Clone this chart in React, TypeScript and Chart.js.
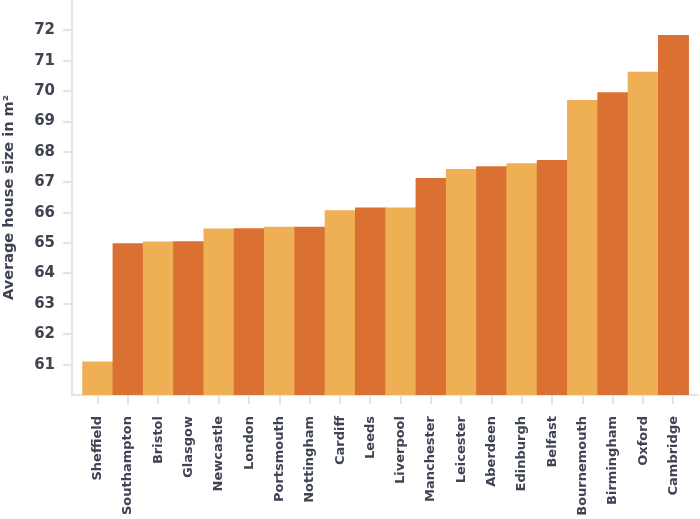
import { useEffect, useRef } from 'react';
import { Chart, registerables } from 'chart.js';

Chart.register(...registerables);

const categories = [
  'Sheffield', 'Southampton', 'Bristol', 'Glasgow', 'Newcastle', 'London',
  'Portsmouth', 'Nottingham', 'Cardiff', 'Leeds', 'Liverpool', 'Manchester',
  'Leicester', 'Aberdeen', 'Edinburgh', 'Belfast', 'Bournemouth', 'Birmingham',
  'Oxford', 'Cambridge',
];
const values = [
  61.09, 64.98, 65.04, 65.05, 65.47, 65.48,
  65.53, 65.53, 66.07, 66.16, 66.16, 67.13,
  67.43, 67.52, 67.62, 67.72, 69.7, 69.95,
  70.63, 71.84,
];
const yTickValues = [61, 62, 63, 64, 65, 66, 67, 68, 69, 70, 71, 72];
const yTitle = 'Average house size in m²';

const LIGHT = '#EFB055';
const DARK = '#DB7033';
const GRAY = '#E4E4E4';
const TEXT = '#3E4452';
const FAMILY = '"DejaVu Sans", sans-serif';

export default function App() {
  const ref = useRef<HTMLCanvasElement>(null);

  useEffect(() => {
    document.body.style.margin = '0';
    const chart = new Chart(ref.current!, {
      type: 'bar',
      data: {
        datasets: [
          {
            data: values.map((v, i) => ({ x: i, y: v })),
            backgroundColor: values.map((_, i) => (i % 2 === 0 ? LIGHT : DARK)),
            borderWidth: 0,
            barPercentage: 1,
            categoryPercentage: 1,
          },
        ],
      },
      options: {
        animation: false,
        responsive: false,
        maintainAspectRatio: false,
        layout: { padding: { top: 0, right: 2, bottom: 0, left: 0 } },
        plugins: { legend: { display: false }, tooltip: { enabled: false } },
        scales: {
          x: {
            type: 'linear',
            offset: false,
            min: -0.85,
            max: 19.81,
            afterBuildTicks: (s: any) => {
              s.ticks = categories.map((_, i) => ({ value: i }));
            },
            afterFit: (s: any) => {
              s.height = 124;
              s.paddingLeft = 0;
              s.paddingRight = 0;
            },
            ticks: {
              autoSkip: false,
              maxRotation: 90,
              minRotation: 90,
              padding: 12,
              color: TEXT,
              font: { family: FAMILY, size: 13, weight: 'bold' },
              callback: (v: any) => categories[v as number] ?? '',
            },
            grid: { offset: false, drawOnChartArea: false, tickLength: 9, color: GRAY, lineWidth: 2 },
            border: { color: GRAY, width: 2 },
          },
          y: {
            min: 60,
            max: 73,
            afterBuildTicks: (s: any) => {
              s.ticks = yTickValues.map((v) => ({ value: v }));
            },
            afterFit: (s: any) => {
              s.width = 72;
              s.paddingTop = 0;
              s.paddingBottom = 0;
            },
            ticks: {
              padding: 8,
              color: TEXT,
              font: { family: FAMILY, size: 15, weight: 'bold' },
            },
            grid: { drawOnChartArea: false, tickLength: 9, color: GRAY, lineWidth: 2 },
            border: { color: GRAY, width: 2 },
            title: {
              display: true,
              text: yTitle,
              color: TEXT,
              padding: { top: 1, bottom: 0 },
              font: { family: FAMILY, size: 14.5, weight: 'bold' },
            },
          },
        },
      },
    } as any);
    return () => chart.destroy();
  }, []);

  return <canvas ref={ref} width={700} height={519} style={{ display: 'block' }} />;
}
